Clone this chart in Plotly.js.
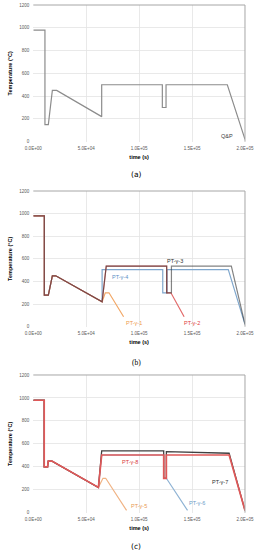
<!DOCTYPE html>
<html>
<head>
<meta charset="utf-8">
<script src="https://cdn.plot.ly/plotly-3.0.1.min.js"></script>
<style>html,body{margin:0;padding:0;background:#fff;}#chart{width:257px;height:550px;}</style>
</head>
<body>
<div id="chart"></div>
<script>
// ---- Data (time in s, temperature in °C) ----
// (a) Q&P
var qpTime = [0, 11000, 11000, 14200, 18000, 22100, 64600, 64600, 121900, 121900, 125400, 125400, 183300, 200000];
var qpTemp = [980, 980, 150, 150, 450, 450, 220, 500, 500, 300, 300, 500, 500, 20];

// (b)
var pt1Time = [0, 10400, 10400, 14200, 18000, 21200, 65000, 68000, 71500, 85300];
var pt1Temp = [980, 980, 280, 280, 450, 450, 220, 300, 300, 88];
var pt2Time = [0, 10400, 10400, 14200, 18000, 21200, 65000, 68900, 126000, 126000, 130000, 142500];
var pt2Temp = [980, 980, 280, 280, 450, 450, 220, 535, 535, 300, 300, 88];
var pt3Time = [0, 10400, 10400, 14200, 18000, 21200, 65000, 68900, 126000, 126000, 130500, 130500, 187100, 200000];
var pt3Temp = [980, 980, 280, 280, 450, 450, 220, 535, 535, 300, 300, 535, 535, 20];
var pt4Time = [0, 10400, 10400, 14200, 18000, 21200, 65000, 65000, 122300, 122300, 126400, 126400, 184200, 200000];
var pt4Temp = [980, 980, 280, 280, 450, 450, 220, 505, 505, 300, 300, 505, 505, 20];

// (c)
var pt5Time = [0, 10300, 10300, 13500, 14100, 17600, 61500, 65800, 68400, 88100];
var pt5Temp = [980, 980, 400, 400, 450, 450, 220, 300, 300, 20];
var pt6Time = [0, 10300, 10300, 13500, 14100, 17600, 61500, 64600, 123200, 123200, 125700, 145700];
var pt6Temp = [980, 980, 400, 400, 450, 450, 220, 503, 503, 300, 300, 20];
var pt7Time = [0, 10300, 10300, 13500, 14100, 17600, 61500, 64600, 123200, 123200, 125700, 125700, 185000, 200000];
var pt7Temp = [980, 980, 400, 400, 450, 450, 220, 538, 538, 300, 300, 532, 518, 20];
var pt8Time = [0, 10300, 10300, 13500, 14100, 17600, 61500, 64600, 123200, 123200, 125700, 125700, 185000, 200000];
var pt8Temp = [980, 980, 400, 400, 450, 450, 220, 503, 503, 300, 300, 503, 503, 20];

// Tick labels
var xTickVals = [0, 50000, 100000, 150000, 200000];
var xTickText = ["0.0E+00", "5.0E+04", "1.0E+05", "1.5E+05", "2.0E+05"];
var yTickVals = [0, 200, 400, 600, 800, 1000, 1200];

// ---- Styling ----
function line(x, y, color, width, xa, ya, opacity) {
  return {x: x, y: y, mode: 'lines', type: 'scatter', xaxis: xa, yaxis: ya,
          line: {color: color, width: width}, opacity: opacity || 1,
          hoverinfo: 'skip', showlegend: false};
}

var traces = [
  line(qpTime, qpTemp, '#8c8c8c', 1.2, 'x', 'y'),
  line(pt4Time, pt4Temp, '#7fa7cd', 1.2, 'x2', 'y2'),
  line(pt1Time, pt1Temp, '#f2a766', 1.2, 'x2', 'y2'),
  line(pt2Time, pt2Temp, '#e26a6a', 1.2, 'x2', 'y2'),
  line(pt3Time, pt3Temp, '#303030', 1.2, 'x2', 'y2', 0.6),
  line(pt5Time, pt5Temp, '#f0b384', 1.2, 'x3', 'y3'),
  line(pt6Time, pt6Temp, '#8fb3d4', 1.2, 'x3', 'y3'),
  line(pt7Time, pt7Temp, '#404040', 1.3, 'x3', 'y3'),
  line(pt8Time, pt8Temp, '#e05858', 1.7, 'x3', 'y3')
];

var tickFont = {family: 'Liberation Sans, Arial, sans-serif', size: 4.5, color: '#595959'};
var titleFont = {family: 'Liberation Sans, Arial, sans-serif', size: 5.5, color: '#000', weight: 'bold'};
var xDom = [0.1296, 0.9533];
function xa(anchor) {
  return {domain: xDom, anchor: anchor, range: [0, 200000], tickvals: xTickVals, ticktext: xTickText,
          showgrid: true, gridcolor: '#e3e3e3', gridwidth: 0.8, zeroline: false, showline: false,
          ticks: '', ticklabelstandoff: 3, tickfont: tickFont,
          title: {text: 'time (s)', font: titleFont, standoff: 4}};
}
function ya(anchor, dom) {
  return {domain: dom, anchor: anchor, range: [0, 1200], tickvals: yTickVals,
          showgrid: true, gridcolor: '#e3e3e3', gridwidth: 0.8, zeroline: false, showline: false,
          ticks: '', ticklabelstandoff: 3, tickfont: tickFont,
          title: {text: 'Temperature (°C)', font: titleFont, standoff: 6}};
}

function frame(xr, yr) {
  return [
    {type: 'line', xref: xr + ' domain', yref: yr + ' domain', x0: 0, x1: 1, y0: 1, y1: 1, line: {color: '#a6a6a6', width: 1}},
    {type: 'line', xref: xr + ' domain', yref: yr + ' domain', x0: 1, x1: 1, y0: 0, y1: 1, line: {color: '#a6a6a6', width: 1}}
  ];
}

var lblFont = function (c) { return {family: 'Liberation Sans, Arial, sans-serif', size: 5.5, color: c}; };
function lbl(text, x, y, xr, yr, c) {
  return {text: text, x: x, y: y, xref: xr, yref: yr, showarrow: false, font: lblFont(c), xanchor: 'center', yanchor: 'middle'};
}
function cap(text, y, fam) {
  return {text: text, x: 0.53, y: y, xref: 'paper', yref: 'paper', showarrow: false,
          font: {family: fam, size: 7.5, color: '#000'}, xanchor: 'center', yanchor: 'middle'};
}

var layout = {
  width: 257, height: 550,
  margin: {l: 0, r: 0, t: 0, b: 0},
  paper_bgcolor: '#fff', plot_bgcolor: '#fff',
  showlegend: false,
  xaxis: xa('y'), yaxis: ya('x', [0.7424, 0.9909]),
  xaxis2: xa('y2'), yaxis2: ya('x2', [0.406, 0.6527]),
  xaxis3: xa('y3'), yaxis3: ya('x3', [0.0678, 0.3182]),
  shapes: [].concat(frame('x', 'y'), frame('x2', 'y2'), frame('x3', 'y3')),
  annotations: [
    lbl('Q&amp;P', 183200, 50, 'x', 'y', '#404040'),
    lbl('PT-γ-4', 82200, 442, 'x2', 'y2', '#5b8fc6'),
    lbl('PT-γ-3', 133400, 584, 'x2', 'y2', '#303030'),
    lbl('PT-γ-1', 95400, 35, 'x2', 'y2', '#ee9a4a'),
    lbl('PT-γ-2', 150100, 30, 'x2', 'y2', '#e03c3c'),
    lbl('PT-γ-8', 90900, 445, 'x3', 'y3', '#d83a3a'),
    lbl('PT-γ-5', 99700, 58, 'x3', 'y3', '#e89a52'),
    lbl('PT-γ-6', 154900, 82, 'x3', 'y3', '#6a9cc8'),
    lbl('PT-γ-7', 176500, 265, 'x3', 'y3', '#303030'),
    cap('(a)', 0.6836, 'DejaVu Sans, sans-serif'),
    cap('(b)', 0.3418, 'Liberation Serif, serif'),
    cap('(c)', 0.0055, 'DejaVu Sans, sans-serif')
  ]
};

Plotly.newPlot('chart', traces, layout, {staticPlot: true, displayModeBar: false});
</script>
</body>
</html>
